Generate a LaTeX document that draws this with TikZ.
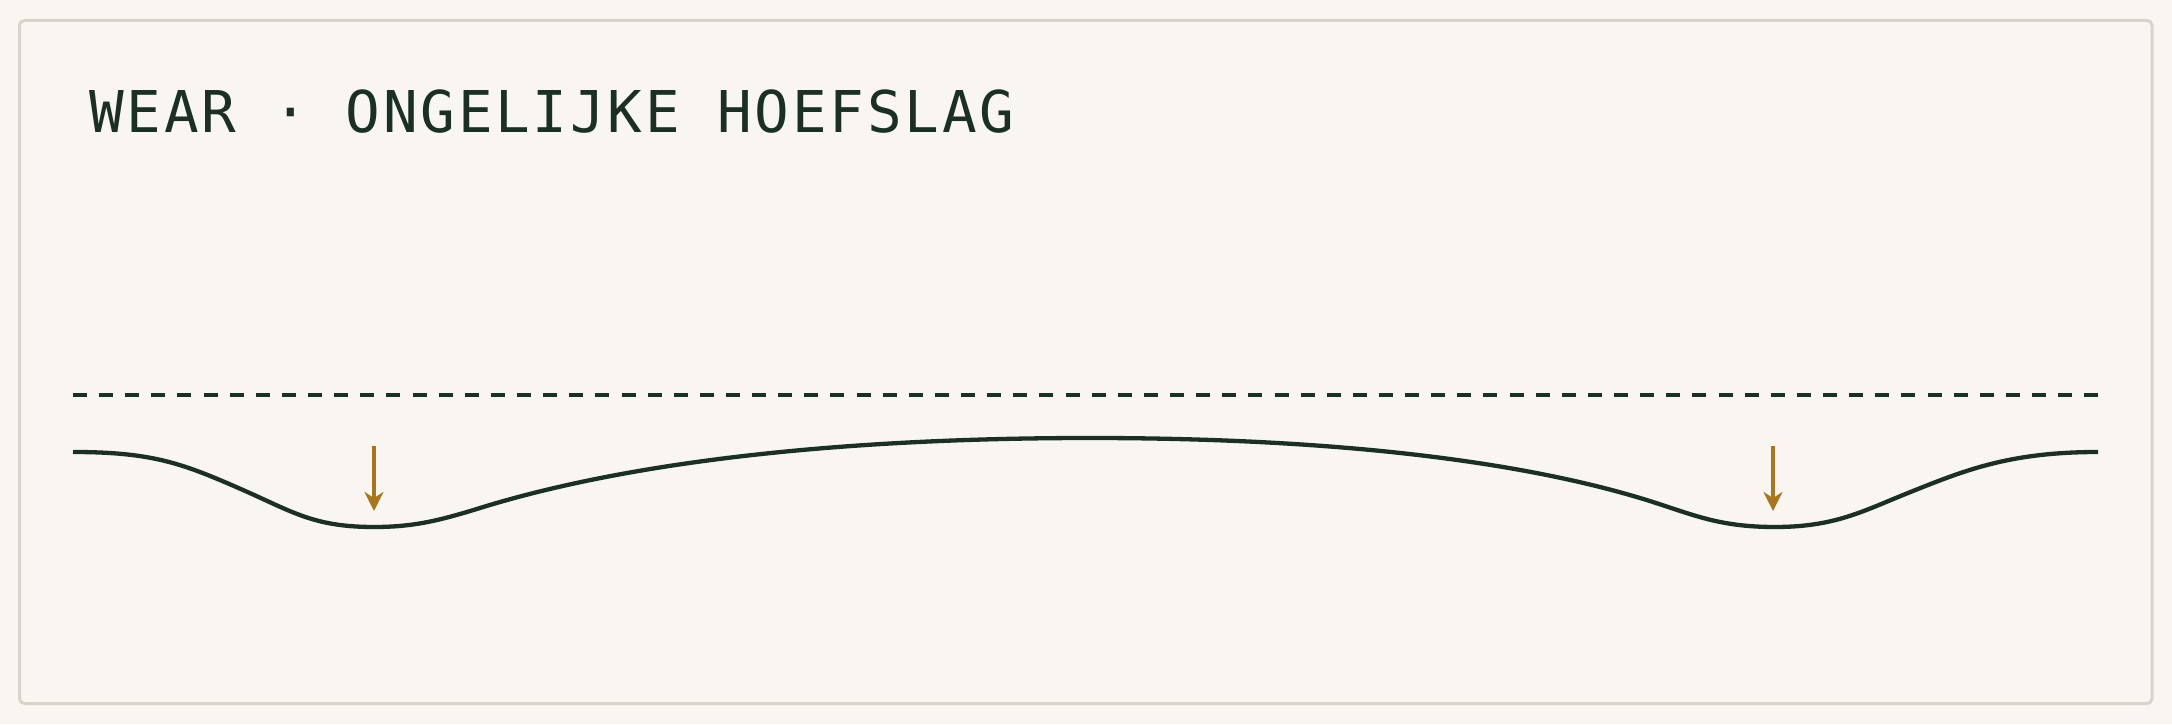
\documentclass[tikz,border=0pt]{standalone}
\usepackage{fontspec}
\newfontfamily\titlefont[LetterSpace=4.8]{DejaVu Sans Mono}
\usetikzlibrary{arrows.meta}
\definecolor{bg}{HTML}{F9F6F2}
\definecolor{framec}{HTML}{D9D3CB}
\definecolor{ink}{HTML}{1B3022}
\definecolor{amber}{HTML}{A8761E}
\tikzset{
  framebox/.style={draw=framec, line width=3pt, rounded corners=5pt, fill=bg},
  titletext/.style={anchor=base west, inner sep=0pt, text=ink, font=\titlefont\fontsize{57.6}{60}\selectfont},
  dashline/.style={draw=ink, line width=4pt, dash pattern=on 14pt off 12.12pt},
  wearcurve/.style={draw=ink, line width=4.3pt},
  wearmark/.style={draw=amber, line width=3.2pt, -{Stealth[length=19pt,width=19pt,inset=6pt]}}
}
\begin{document}
\begin{tikzpicture}[x=1pt,y=1pt]
\fill[bg] (0,0) rectangle (2172,724);
\useasboundingbox (0,0) rectangle (2172,724);
\draw[framebox] (19.5,20.5) rectangle (2152,703.5);
\node[titletext] (title) at (89,591) {WEAR · ONGELIJKE HOEFSLAG};
\coordinate (dl) at (73,329);
\coordinate (dr) at (2098,329);
\draw[dashline] (dl) -- (dr);
\coordinate (c0) at (73,272);
\coordinate (i1) at (243,234);
\coordinate (m1) at (374,197);
\coordinate (i2) at (480,216);
\coordinate (top) at (1090,286);
\coordinate (i3) at (1640,226);
\coordinate (m2) at (1775,197);
\coordinate (i4) at (1908,231);
\coordinate (c1) at (2098,272);
\draw[wearcurve] (c0)
  .. controls (153,272) and (183,260.4) .. (i1)
  .. controls (293,212) and (314,197) .. (m1)
  .. controls (414,197) and (440,203.6) .. (i2)
  .. controls (630,262.5) and (840,286) .. (top)
  .. controls (1340,286) and (1520,262) .. (i3)
  .. controls (1690,211) and (1715,197) .. (m2)
  .. controls (1835,197) and (1863,213) .. (i4)
  .. controls (1963,253) and (2008,272) .. (c1);
\coordinate (a1s) at (374,278);
\coordinate (a1e) at (374,213);
\coordinate (a2s) at (1773,278);
\coordinate (a2e) at (1773,213);
\draw[wearmark] (a1s) -- (a1e);
\draw[wearmark] (a2s) -- (a2e);
\end{tikzpicture}
\end{document}
